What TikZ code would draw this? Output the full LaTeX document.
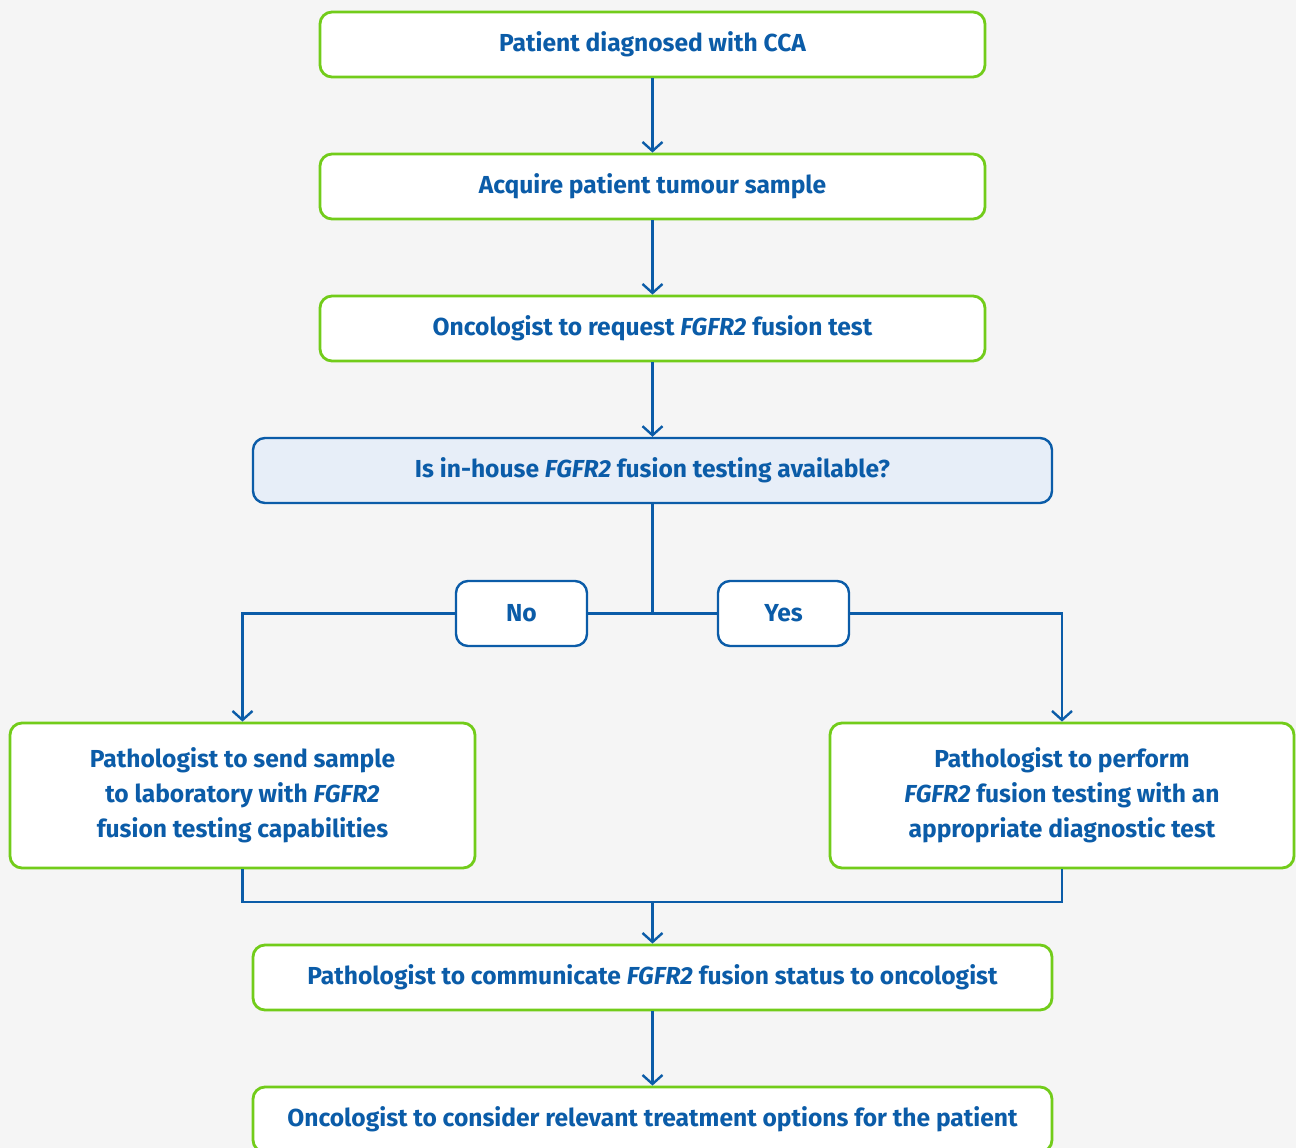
\documentclass[tikz,border=0pt]{standalone}
\usepackage{fontspec}
\setmainfont{Fira Sans}
\usetikzlibrary{arrows.meta}
\definecolor{txtblue}{HTML}{0B5CA8}
\definecolor{boxgreen}{HTML}{72CC1A}
\definecolor{decfill}{HTML}{E7EEF8}
\definecolor{bgray}{HTML}{F5F5F5}
\begin{document}
\begin{tikzpicture}[x=1pt,y=-1pt,
  box/.style={draw=boxgreen, line width=2.8pt, rounded corners=12pt, fill=white,
    text=txtblue, font=\fontsize{24.6}{35}\selectfont\bfseries, align=center,
    inner sep=0pt, minimum height=65pt},
  decbox/.style={box, draw=txtblue, line width=2.4pt, fill=decfill},
  choice/.style={box, draw=txtblue, line width=2.4pt, minimum width=131pt},
  link/.style={draw=txtblue, line width=2.4pt},
  arr/.style={link, -{Straight Barb[length=9pt,width=20pt]}}]
\fill[bgray] (0,0) rectangle (1296,1148);
\useasboundingbox (0,0) rectangle (1296,1148);
\node[box, minimum width=665pt] (b1) at (652.5,44.5) {Patient diagnosed with CCA};
\node[box, minimum width=665pt] (b2) at (652.5,186.5) {Acquire patient tumour sample};
\node[box, minimum width=665pt] (b3) at (652.5,328.5) {Oncologist to request \textit{FGFR2} fusion test};
\node[decbox, minimum width=799pt] (dec) at (652.5,470.5) {Is in-house \textit{FGFR2} fusion testing available?};
\node[choice] (no) at (521.5,613.5) {No};
\node[choice] (yes) at (783.5,613.5) {Yes};
\node[box, minimum width=465pt, minimum height=145pt] (left) at (242.5,795.5)
  {Pathologist to send sample\\to laboratory with \textit{FGFR2}\\fusion testing capabilities};
\node[box, minimum width=464pt, minimum height=145pt] (right) at (1062,795.5)
  {Pathologist to perform\\\textit{FGFR2} fusion testing with an\\appropriate diagnostic test};
\node[box, minimum width=799pt] (comm) at (652.5,977.5) {Pathologist to communicate \textit{FGFR2} fusion status to oncologist};
\node[box, minimum width=799pt] (cons) at (652.5,1119.5) {Oncologist to consider relevant treatment options for the patient};
\coordinate (split) at (652.5,613.5);
\coordinate (merge) at (652.5,902);
\draw[arr] (b1) -- (b2);
\draw[arr] (b2) -- (b3);
\draw[arr] (b3) -- (dec);
\draw[link] (dec.south) -- (split);
\draw[link] (no.east) -- (split) -- (yes.west);
\draw[arr] (no.west) -| (left.north);
\draw[arr] (yes.east) -| (right.north);
\draw[link] (left.south) |- (merge) -| (right.south);
\draw[arr] (merge) -- (comm.north);
\draw[arr] (comm) -- (cons);
\end{tikzpicture}
\end{document}
